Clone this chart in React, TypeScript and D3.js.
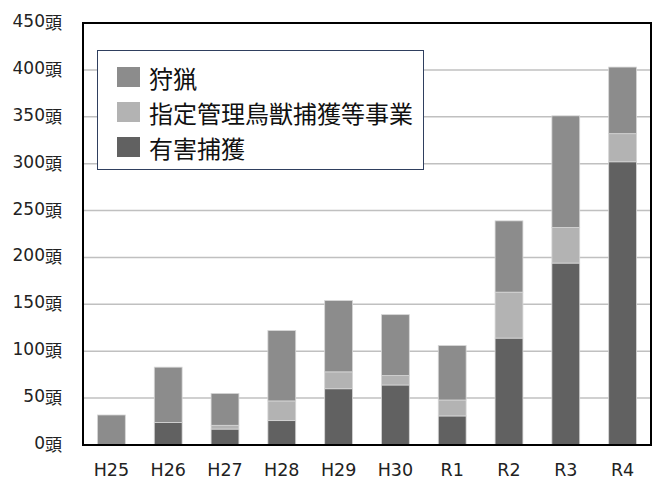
import React from 'react'
import * as d3 from 'd3'

// fiscal years
const years = ['H25', 'H26', 'H27', 'H28', 'H29', 'H30', 'R1', 'R2', 'R3', 'R4']

// head counts per category
const yugai = [0, 24, 17, 26, 60, 64, 31, 114, 194, 302]
const shitei = [0, 0, 4, 21, 18, 10, 17, 49, 38, 30]
const shuryo = [32, 59, 34, 75, 76, 65, 58, 76, 119, 71]

const seriesNames = ['有害捕獲', '指定管理鳥獣捕獲等事業', '狩猟']
const seriesColors = ['#616161', '#b3b3b3', '#8c8c8c']
const legendOrder = [2, 1, 0]

const yTicks = [0, 50, 100, 150, 200, 250, 300, 350, 400, 450]

const W = 661
const H = 480
const left = 83
const right = 651
const top = 23
const bottom = 445

const labelFont = '"DejaVu Sans", Verdana, "Noto Sans CJK JP", sans-serif'
const cjkFont = '"Noto Sans CJK JP", sans-serif'

export default function App() {
  const rows = years.map((y, i) => ({ year: y, a: yugai[i], b: shitei[i], c: shuryo[i] }))
  const stack = d3.stack<any>().keys(['a', 'b', 'c'])(rows)

  const x = d3.scaleBand().domain(years).range([left, right]).paddingInner(0.51).paddingOuter(0.255)
  const y = d3.scaleLinear().domain([0, 450]).range([bottom, top])

  return (
    <svg width={W} height={H} style={{ position: 'absolute', left: 0, top: 0 }}>
      <rect x={0} y={0} width={W} height={H} fill="#fff" />

      {/* gridlines */}
      {yTicks.slice(1, -1).map(t => (
        <line key={t} x1={left} x2={right} y1={y(t)} y2={y(t)} stroke="#c0c0c0" strokeWidth={1.5} />
      ))}

      {/* bars */}
      {stack.map((s, si) => (
        <g key={si} fill={seriesColors[si]}>
          {s.map((d, i) => {
            const h = y(d[0]) - y(d[1])
            if (h <= 0) return null
            return (
              <rect key={i} x={x(years[i])} y={y(d[1])} width={x.bandwidth()} height={h}
                stroke="#d6d6d6" strokeWidth={0.8} />
            )
          })}
        </g>
      ))}

      {/* plot frame */}
      <rect x={left} y={top} width={right - left} height={bottom - top} fill="none" stroke="#000" strokeWidth={2} />

      {/* y labels */}
      {yTicks.map(t => (
        <text key={t} x={62} y={y(t) - 2} textAnchor="end" dominantBaseline="central"
          fontFamily={labelFont} fontSize={17} fill="#222">
          {t}<tspan fontFamily={cjkFont}>頭</tspan>
        </text>
      ))}

      {/* x labels */}
      {years.map(yr => (
        <text key={yr} x={(x(yr) as number) + x.bandwidth() / 2} y={470} textAnchor="middle"
          dominantBaseline="central" fontFamily={labelFont} fontSize={17.5} fill="#222">
          {yr}
        </text>
      ))}

      {/* legend */}
      <g>
        <rect x={97.5} y={50.5} width={326} height={119} fill="#fff" stroke="#2f3f5f" strokeWidth={1} />
        {legendOrder.map((si, k) => (
          <g key={si} transform={`translate(117,${67 + k * 35})`}>
            <rect x={0} y={0} width={23} height={20} fill={seriesColors[si]} />
            <text x={32} y={10} dominantBaseline="central" fontFamily={cjkFont} fontSize={24} fill="#111">
              {seriesNames[si]}
            </text>
          </g>
        ))}
      </g>
    </svg>
  )
}
